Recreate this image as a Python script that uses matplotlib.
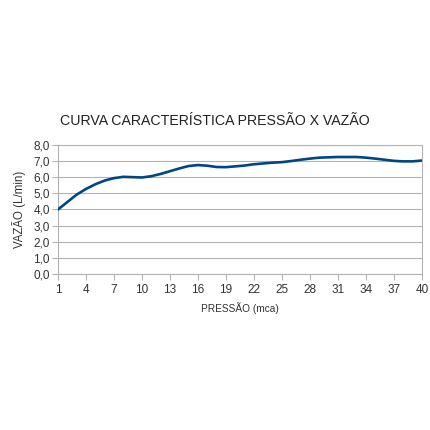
import matplotlib
matplotlib.use('Agg')
import matplotlib.pyplot as plt

plt.rcParams['font.family'] = ['Liberation Sans', 'DejaVu Sans']

# pressão (mca) and vazão (L/min)
pressao = list(range(1, 41))
vazao = [4.00, 4.46, 4.92, 5.27, 5.56, 5.79, 5.94, 6.02, 6.00, 5.98,
         6.06, 6.20, 6.37, 6.54, 6.69, 6.75, 6.71, 6.63, 6.62, 6.67,
         6.72, 6.80, 6.85, 6.90, 6.93, 7.00, 7.08, 7.15, 7.21, 7.23,
         7.25, 7.25, 7.25, 7.21, 7.15, 7.08, 7.01, 6.98, 6.98, 7.03]
x_ticks = list(range(1, 41, 3))
y_ticks = [0, 1, 2, 3, 4, 5, 6, 7, 8]
y_labels = ['%.1f' % v for v in y_ticks]
y_labels = [s.replace('.', ',') for s in y_labels]

grid_color = '#b3b3b3'

fig = plt.figure(figsize=(4.3, 4.3), dpi=100)
ax = fig.add_axes([0.135, 0.363, 0.846, 0.3])

ax.plot(pressao, vazao, color='#004586', linewidth=1.9,
        solid_joinstyle='round', solid_capstyle='round', zorder=3)

ax.set_xlim(1, 40)
ax.set_ylim(0, 8)
ax.set_xticks(x_ticks)
ax.set_yticks(y_ticks)
ax.set_yticklabels(y_labels)

ax.grid(axis='y', color=grid_color, linewidth=0.8)
for s in ax.spines.values():
    s.set_color(grid_color)
    s.set_linewidth(0.8)

ax.tick_params(axis='both', colors=grid_color, labelcolor='#333333',
               labelsize=8.5, length=4, width=0.8, direction='out')
ax.tick_params(axis='x', pad=3)
ax.tick_params(axis='y', pad=2)

ax.set_xlabel('PRESSÃO (mca)', fontsize=7.3, color='#333333', labelpad=5)
ax.set_ylabel('VAZÃO (L/min)', fontsize=8.3, color='#333333', labelpad=5)

fig.text(0.5, 1 - 121 / 430, 'CURVA CARACTERÍSTICA PRESSÃO X VAZÃO',
         ha='center', va='center', fontsize=10.2, color='#222222')

fig.savefig('out.png', dpi=100, facecolor='white')
